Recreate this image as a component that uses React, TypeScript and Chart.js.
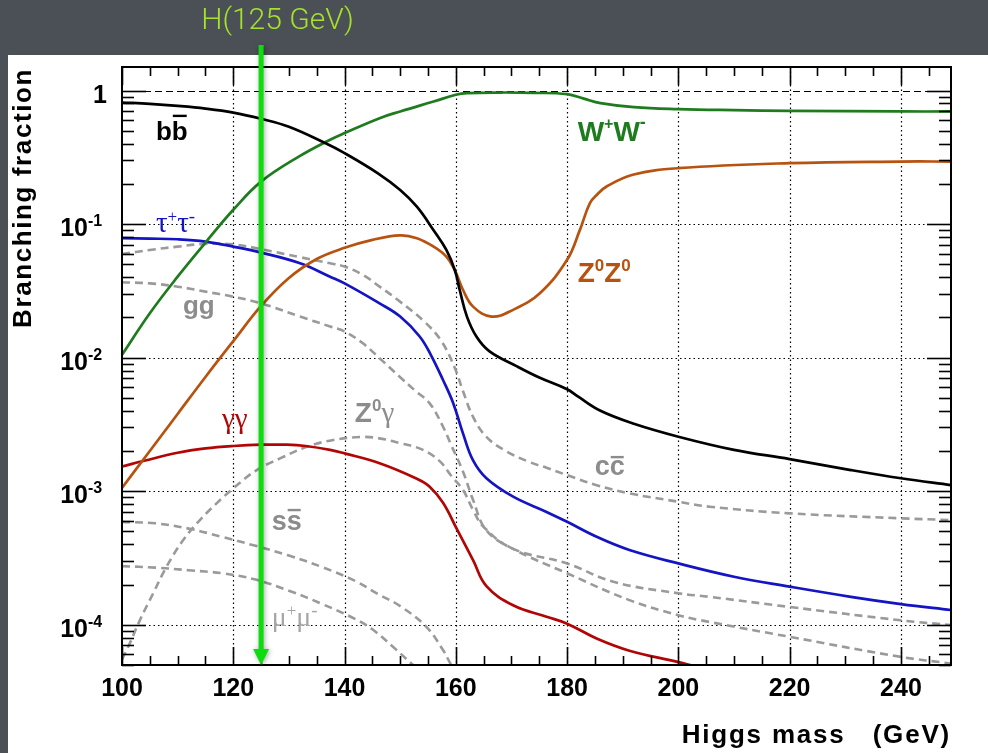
import { useEffect, useRef } from "react";
import { Chart, registerables } from "chart.js";

Chart.register(...registerables);

// Standard Model Higgs branching fractions versus Higgs mass (GeV)
const MASS_BB = [100, 105, 110, 115, 120, 125, 130, 136.5, 140, 146, 150, 153, 156, 158.3, 159.8, 160.7, 162, 163.7, 166, 171, 175, 180, 182, 186, 192, 200, 210, 220, 231, 240, 249];
const BR_BB = [0.813, 0.795, 0.768, 0.733, 0.684, 0.614, 0.535, 0.404, 0.34, 0.24, 0.18, 0.135, 0.09, 0.064, 0.0454, 0.0321, 0.0203, 0.0144, 0.0112, 0.0086, 0.0071, 0.0058, 0.0051, 0.004, 0.0032, 0.00256, 0.00204, 0.00174, 0.00144, 0.00125, 0.00111];

const MASS_WW = [100, 105, 110, 115, 120, 125, 132, 137.4, 140, 146.3, 150, 156, 160, 162, 168, 174, 180, 183, 186, 192, 200, 210, 220, 240, 249];
const BR_WW = [0.0105, 0.0215, 0.0404, 0.0727, 0.128, 0.208, 0.324, 0.428, 0.48, 0.621, 0.697, 0.827, 0.929, 0.956, 0.966, 0.96, 0.94, 0.87, 0.805, 0.751, 0.726, 0.713, 0.705, 0.697, 0.697];

const MASS_ZZ = [100, 105, 110, 115, 120, 125, 130, 135, 140, 145, 150, 153, 156, 158.3, 159.8, 161.3, 163.1, 166.4, 170.3, 175.1, 180, 182.3, 184.1, 185.5, 187.1, 191.8, 200, 220, 240, 249];
const BR_ZZ = [0.00106, 0.002, 0.00379, 0.00717, 0.0133, 0.0244, 0.0395, 0.0548, 0.0664, 0.0762, 0.0823, 0.0784, 0.0678, 0.0571, 0.0454, 0.0321, 0.0241, 0.0203, 0.0228, 0.0304, 0.054, 0.0905, 0.1435, 0.168, 0.191, 0.234, 0.262, 0.286, 0.294, 0.294];

const MASS_TAU = [100, 105, 110, 115, 120, 125, 132, 137.4, 140, 146.3, 150, 153.5, 155.5, 157.7, 159.5, 161.3, 163.1, 165.5, 170.3, 176.3, 180, 185.3, 191.2, 200, 210, 220, 231, 240, 249];
const BR_TAU = [0.0784, 0.0778, 0.077, 0.074, 0.0678, 0.0612, 0.0509, 0.0404, 0.036, 0.0255, 0.0203, 0.0144, 0.0105, 0.0068, 0.0046, 0.0027, 0.0017, 0.00125, 0.00091, 0.0007, 0.00059, 0.000456, 0.000363, 0.000288, 0.000229, 0.000193, 0.000162, 0.000143, 0.000129];

const MASS_AA = [100, 104, 110, 115, 120, 125, 129.6, 133, 137.4, 140, 146.3, 153, 155.3, 157.7, 160.1, 163.1, 165.5, 170.3, 176.3, 180, 185.3, 191.2, 200, 203, 206];
const BR_AA = [0.00153, 0.00169, 0.00194, 0.00209, 0.00218, 0.00223, 0.00223, 0.00218, 0.00204, 0.00192, 0.00162, 0.00124, 0.00108, 0.00082, 0.00053, 0.000305, 0.000195, 0.00014, 0.000115, 0.000102, 0.000079, 0.000064, 0.0000525, 0.0000488, 0.000046];

const MASS_GG = [100, 105, 110, 115, 120, 125, 132, 137.4, 140, 143.3, 146.3, 149.6, 154.4, 157.4, 159.8, 161.3, 163.1, 165.5, 169, 173.3, 176.3, 180, 185.3, 191.2, 200, 205.6, 220, 240, 249];
const BR_GG = [0.0597, 0.064, 0.0678, 0.0711, 0.0705, 0.0649, 0.0565, 0.0509, 0.0481, 0.0416, 0.034, 0.027, 0.0185, 0.0133, 0.0084, 0.0056, 0.0036, 0.00255, 0.002, 0.00165, 0.0015, 0.00132, 0.00111, 0.000964, 0.000834, 0.000766, 0.000683, 0.000627, 0.000608];

const MASS_CC = [100, 105, 110, 115, 120, 125, 132, 137.4, 140, 143.3, 146.3, 149.9, 152.6, 155.3, 157.7, 159.2, 161.3, 163.1, 165.5, 170.3, 180, 191.2, 200, 205.6, 220, 240, 249];
const BR_CC = [0.0367, 0.036, 0.034, 0.0312, 0.0286, 0.0255, 0.0203, 0.0171, 0.0157, 0.0128, 0.0099, 0.0072, 0.0057, 0.00455, 0.00304, 0.0022, 0.0014, 0.00086, 0.00051, 0.00037, 0.000243, 0.000153, 0.000118, 0.000105, 0.0000813, 0.0000575, 0.0000513];

const MASS_ZGAMMA = [100, 101.4, 103.2, 105.6, 108, 111, 114, 117, 120, 124.2, 128.4, 133.2, 138, 143, 146, 150, 154.1, 157.1, 159.2, 161.3, 163.1, 165, 170.3, 180, 188.3, 200, 205.6, 220, 240, 249];
const BR_ZGAMMA = [0.000055, 0.0000726, 0.000108, 0.000172, 0.000272, 0.000431, 0.000608, 0.000811, 0.00105, 0.00144, 0.00176, 0.00215, 0.00242, 0.00255, 0.0025, 0.00229, 0.00204, 0.00168, 0.0013, 0.00102, 0.000723, 0.00054, 0.00037, 0.000288, 0.00021, 0.000172, 0.000162, 0.000136, 0.000108, 0.0000995];

const MASS_SS = [100, 106, 112, 118, 124, 130, 136, 142, 146, 150, 154.7, 157.7, 159.2, 161];
const BR_SS = [0.00059, 0.000575, 0.000525, 0.000455, 0.00039, 0.00033, 0.00027, 0.000212, 0.00017, 0.000138, 0.0000966, 0.0000647, 0.00005, 0.00004];

const MASS_MUMU = [100, 106, 112, 118, 124, 130, 136, 142, 145, 148.7, 152.3, 154];
const BR_MUMU = [0.000275, 0.000268, 0.000256, 0.000243, 0.000218, 0.00018, 0.000143, 0.00011, 0.0000925, 0.0000684, 0.00005, 0.000043];

// Axes
const X_MIN = 100;
const X_MAX = 249;
const Y_MIN = 0.00005;
const Y_MAX = 1.5;
const X_MAJOR = [100, 120, 140, 160, 180, 200, 220, 240];
const X_MINOR_STEP = 5;
const Y_DECADE_VALUES = [1, 0.1, 0.01, 0.001, 0.0001];
const Y_DECADE_EXPONENTS = ["", "-1", "-2", "-3", "-4"];
const Y_MINOR_BASES = [0.00001, 0.0001, 0.001, 0.01, 0.1, 1];
const Y_MINOR_MULTIPLES = [2, 3, 4, 5, 6, 7, 8, 9];

const H_MASS = 125;
const H_TITLE = "H(125 GeV)";
const X_TITLE = "Higgs mass   (GeV)";
const Y_TITLE = "Branching fraction";

const SANS = '"Liberation Sans", Arial, Helvetica, sans-serif';
const SERIF = '"Liberation Serif", "DejaVu Serif", serif';
const bold = (px: number) => `bold ${px}px ${SANS}`;
const serif = (px: number) => `${px}px ${SERIF}`;

const COLORS = {
  bb: "#000000",
  ww: "#1e7b1e",
  zz: "#b8520f",
  tau: "#1414c4",
  aa: "#b20606",
  dash: "#9a9a9a",
  tag: "#8c8c8c",
  tagLight: "#a6a6a6",
};

type Part = { t: string; font: string; rise?: number; over?: number };
type Tag = { m: number; br: number; color: string; parts: Part[] };

// Channel names, anchored at (mass, branching fraction) of the left end of their baseline
const TAGS: Tag[] = [
  { m: 106.1, br: 0.427, color: COLORS.bb, parts: [{ t: "b", font: bold(26) }, { t: "b", font: bold(26), over: 24 }] },
  {
    m: 181.9, br: 0.422, color: COLORS.ww,
    parts: [
      { t: "W", font: bold(28) }, { t: "+", font: bold(16), rise: 12 },
      { t: "W", font: bold(28) }, { t: "-", font: bold(18), rise: 13 },
    ],
  },
  {
    m: 106.1, br: 0.0874, color: COLORS.tau,
    parts: [
      { t: "τ", font: serif(29) }, { t: "+", font: serif(17), rise: 10 },
      { t: "τ", font: serif(29) }, { t: "-", font: serif(19), rise: 10 },
    ],
  },
  { m: 110.96, br: 0.0212, color: COLORS.tag, parts: [{ t: "gg", font: bold(26) }] },
  {
    m: 181.9, br: 0.0371, color: COLORS.zz,
    parts: [
      { t: "Z", font: bold(28) }, { t: "0", font: bold(17), rise: 11 },
      { t: "Z", font: bold(28) }, { t: "0", font: bold(17), rise: 11 },
    ],
  },
  { m: 117.96, br: 0.00297, color: COLORS.aa, parts: [{ t: "γγ", font: serif(29) }] },
  {
    m: 141.85, br: 0.00332, color: COLORS.tag,
    parts: [{ t: "Z", font: bold(28) }, { t: "0", font: bold(17), rise: 11 }, { t: "γ", font: serif(29) }],
  },
  { m: 184.96, br: 0.00132, color: COLORS.tag, parts: [{ t: "c", font: bold(27) }, { t: "c", font: bold(27), over: 18 }] },
  { m: 126.9, br: 0.000512, color: COLORS.tag, parts: [{ t: "s", font: bold(27) }, { t: "s", font: bold(27), over: 20 }] },
  {
    m: 126.9, br: 0.0000978, color: COLORS.tagLight,
    parts: [
      { t: "μ", font: serif(28) }, { t: "+", font: serif(17), rise: 10 },
      { t: "μ", font: serif(28) }, { t: "-", font: serif(19), rise: 10 },
    ],
  },
];

function points(mass: number[], br: number[]) {
  return mass.map((m, i) => ({ x: m, y: br[i] }));
}

const SOLID = { borderWidth: 2.7, pointRadius: 0, fill: false, tension: 0.4, order: 1, clip: 1 };
const DASHED = {
  borderWidth: 2.6, borderDash: [8, 5], borderColor: COLORS.dash, pointRadius: 0, fill: false,
  tension: 0.4, order: 2, clip: 1,
};

function strokeLine(ctx: CanvasRenderingContext2D, x1: number, y1: number, x2: number, y2: number) {
  ctx.beginPath();
  ctx.moveTo(x1, y1);
  ctx.lineTo(x2, y2);
  ctx.stroke();
}

function drawParts(ctx: CanvasRenderingContext2D, x: number, y: number, parts: Part[], color: string) {
  ctx.fillStyle = color;
  ctx.strokeStyle = color;
  ctx.textAlign = "left";
  ctx.textBaseline = "alphabetic";
  let cx = x;
  for (const p of parts) {
    ctx.font = p.font;
    const w = ctx.measureText(p.t).width;
    ctx.fillText(p.t, cx, y - (p.rise || 0));
    if (p.over) {
      ctx.lineWidth = 2.4;
      strokeLine(ctx, cx + 1, y - p.over, cx + w - 1, y - p.over);
    }
    cx += w;
  }
}

const decor = {
  id: "decor",
  beforeDraw(chart: any) {
    const { ctx, width, height } = chart;
    ctx.save();
    ctx.fillStyle = "#4b4f56";
    ctx.fillRect(0, 0, width, height);
    ctx.fillStyle = "#ffffff";
    ctx.fillRect(8, 55, width - 8, height - 55);
    ctx.restore();
  },
  beforeDatasetsDraw(chart: any) {
    const { ctx, chartArea: a, scales } = chart;
    const x = scales.x;
    const y = scales.y;
    ctx.save();
    ctx.strokeStyle = "#000";
    ctx.lineWidth = 1.2;
    ctx.setLineDash([1.5, 3]);
    for (const m of X_MAJOR) {
      if (m === X_MIN) continue;
      const px = Math.round(x.getPixelForValue(m)) + 0.5;
      strokeLine(ctx, px, a.top, px, a.bottom);
    }
    Y_DECADE_VALUES.forEach((v, i) => {
      if (i === 0) return;
      const py = Math.round(y.getPixelForValue(v)) + 0.5;
      strokeLine(ctx, a.left, py, a.right, py);
    });
    ctx.setLineDash([7, 4]);
    const p1 = Math.round(y.getPixelForValue(Y_DECADE_VALUES[0])) + 0.5;
    strokeLine(ctx, a.left, p1, a.right, p1);
    ctx.restore();
  },
  afterDatasetsDraw(chart: any) {
    const { ctx, chartArea: a, scales } = chart;
    const x = scales.x;
    const y = scales.y;
    ctx.save();
    ctx.strokeStyle = "#000";
    ctx.lineWidth = 1.6;

    // x ticks, bottom and top, pointing inwards
    for (let m = X_MIN; m <= X_MAX; m += X_MINOR_STEP) {
      const px = Math.round(x.getPixelForValue(m)) + 0.5;
      const len = X_MAJOR.includes(m) ? 18 : 9;
      strokeLine(ctx, px, a.bottom, px, a.bottom - len);
      strokeLine(ctx, px, a.top, px, a.top + len);
    }
    // y ticks, left and right
    const yTick = (v: number, len: number) => {
      const py = Math.round(y.getPixelForValue(v)) + 0.5;
      strokeLine(ctx, a.left, py, a.left + len, py);
      strokeLine(ctx, a.right, py, a.right - len, py);
    };
    Y_DECADE_VALUES.forEach((v) => yTick(v, 24));
    for (const b of Y_MINOR_BASES) {
      for (const k of Y_MINOR_MULTIPLES) {
        const v = b * k;
        if (v >= Y_MIN * 0.999 && v <= Y_MAX) yTick(v, 12);
      }
    }

    ctx.lineWidth = 2;
    ctx.strokeRect(a.left, a.top, a.right - a.left, a.bottom - a.top);

    // tick labels
    ctx.fillStyle = "#000";
    ctx.font = bold(25);
    ctx.textAlign = "center";
    ctx.textBaseline = "alphabetic";
    for (const m of X_MAJOR) {
      ctx.fillText(String(m), x.getPixelForValue(m), a.bottom + 31);
    }
    Y_DECADE_VALUES.forEach((v, i) => {
      const py = y.getPixelForValue(v);
      if (!Y_DECADE_EXPONENTS[i]) {
        ctx.font = bold(25);
        ctx.textAlign = "right";
        ctx.fillText("1", a.left - 15, py + 12);
        return;
      }
      ctx.font = bold(25);
      ctx.textAlign = "right";
      ctx.fillText("10", a.left - 34, py + 12);
      ctx.font = bold(16);
      ctx.textAlign = "left";
      ctx.fillText(Y_DECADE_EXPONENTS[i], a.left - 34, py + 2);
    });

    // axis titles
    (ctx as any).letterSpacing = "1.8px";
    ctx.font = bold(26);
    ctx.textAlign = "right";
    ctx.fillText(X_TITLE, a.right, a.bottom + 78);
    (ctx as any).letterSpacing = "1.6px";
    ctx.save();
    ctx.translate(31, 68);
    ctx.rotate(-Math.PI / 2);
    ctx.textAlign = "right";
    ctx.fillText(Y_TITLE, 0, 0);
    ctx.restore();
    (ctx as any).letterSpacing = "0px";

    // channel names
    for (const tag of TAGS) {
      drawParts(ctx, x.getPixelForValue(tag.m), y.getPixelForValue(tag.br), tag.parts, tag.color);
    }
    ctx.restore();
  },
  afterDraw(chart: any) {
    const { ctx, chartArea: a, scales } = chart;
    const ax = scales.x.getPixelForValue(H_MASS);
    const top = 45;
    const head = 16;
    ctx.save();
    ctx.shadowColor = "rgba(0,0,0,0.35)";
    ctx.shadowBlur = 5;
    ctx.shadowOffsetX = 1;
    ctx.shadowOffsetY = 1;
    ctx.fillStyle = "#0ddc0d";
    ctx.beginPath();
    ctx.moveTo(ax - 2.5, top);
    ctx.lineTo(ax + 2.5, top);
    ctx.lineTo(ax + 2.5, a.bottom - head);
    ctx.lineTo(ax + 8, a.bottom - head);
    ctx.lineTo(ax, a.bottom);
    ctx.lineTo(ax - 8, a.bottom - head);
    ctx.lineTo(ax - 2.5, a.bottom - head);
    ctx.closePath();
    ctx.fill();
    ctx.restore();

    ctx.save();
    ctx.fillStyle = "#a4e22c";
    ctx.font = `300 30px Roboto, "Liberation Sans", sans-serif`;
    ctx.textAlign = "center";
    ctx.textBaseline = "alphabetic";
    ctx.fillText(H_TITLE, 277.5, 29);
    ctx.restore();
  },
};

export default function App() {
  const ref = useRef<HTMLCanvasElement>(null);

  useEffect(() => {
    const canvas = ref.current;
    if (!canvas) return;
    const chart = new Chart(canvas, {
      type: "line",
      data: {
        datasets: [
          { ...SOLID, label: "bb", data: points(MASS_BB, BR_BB), borderColor: COLORS.bb },
          { ...SOLID, label: "WW", data: points(MASS_WW, BR_WW), borderColor: COLORS.ww },
          { ...SOLID, label: "ZZ", data: points(MASS_ZZ, BR_ZZ), borderColor: COLORS.zz },
          { ...SOLID, label: "tautau", data: points(MASS_TAU, BR_TAU), borderColor: COLORS.tau },
          { ...SOLID, label: "gammagamma", data: points(MASS_AA, BR_AA), borderColor: COLORS.aa },
          { ...DASHED, label: "gg", data: points(MASS_GG, BR_GG) },
          { ...DASHED, label: "cc", data: points(MASS_CC, BR_CC) },
          { ...DASHED, label: "Zgamma", data: points(MASS_ZGAMMA, BR_ZGAMMA) },
          { ...DASHED, label: "ss", data: points(MASS_SS, BR_SS) },
          { ...DASHED, label: "mumu", data: points(MASS_MUMU, BR_MUMU) },
        ] as any,
      },
      options: {
        responsive: false,
        animation: false,
        devicePixelRatio: 1,
        events: [],
        layout: { padding: { left: 122, top: 67, right: 37, bottom: 88 } },
        plugins: { legend: { display: false }, tooltip: { enabled: false }, title: { display: false } },
        scales: {
          x: { type: "linear", min: X_MIN, max: X_MAX, display: false },
          y: { type: "logarithmic", min: Y_MIN, max: Y_MAX, display: false },
        },
      },
      plugins: [decor],
    });
    return () => chart.destroy();
  }, []);

  return (
    <div style={{ position: "fixed", left: 0, top: 0, width: 988, height: 753, background: "#4b4f56" }}>
      <canvas ref={ref} width={988} height={753} style={{ display: "block", width: 988, height: 753 }} />
    </div>
  );
}
